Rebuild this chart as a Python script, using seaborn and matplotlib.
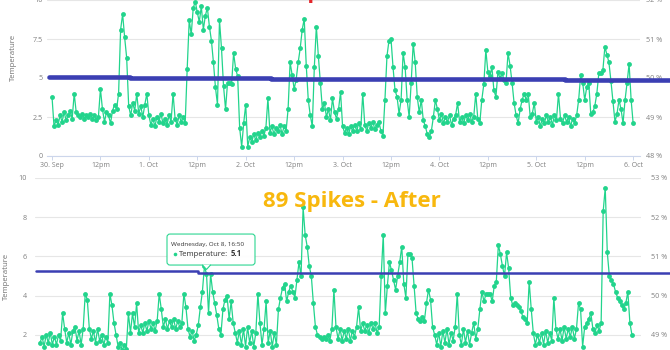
import numpy as np
import pandas as pd
import matplotlib
matplotlib.use("Agg")
import matplotlib.pyplot as plt
import seaborn as sns
from matplotlib.patches import FancyBboxPatch, Polygon
from matplotlib.lines import Line2D
from matplotlib.transforms import IdentityTransform

# ---------------- Before: temperature every 30 min, 30 Sep 00:00 -> 6 Oct 00:00
before_sep30 = [3.8, 1.9, 2.3, 2.0, 2.6, 2.2, 2.8, 2.3, 2.6, 2.9, 2.4, 4.0,
                2.8, 2.6, 2.5, 2.7, 2.4, 2.6, 2.5, 2.7, 2.4, 2.6, 2.3, 2.5,
                4.3, 3.0, 2.2, 2.8, 2.6, 2.1, 2.9, 3.3, 3.0, 4.0, 8.1, 9.1,
                7.6, 6.3, 3.2, 2.6, 3.4, 2.9, 4.0, 2.7, 3.2, 2.5, 3.3, 4.0]
before_oct1 = [2.6, 2.0, 2.4, 1.9, 2.5, 2.2, 2.7, 2.1, 2.4, 2.0, 2.6, 2.2,
               4.0, 2.4, 2.0, 2.6, 2.2, 2.5, 2.1, 5.6, 8.7, 7.8, 9.5, 9.9,
               9.2, 8.6, 9.6, 8.1, 9.0, 9.5, 8.3, 7.4, 6.0, 4.4, 3.3, 8.7,
               6.9, 4.5, 3.0, 4.7, 4.7, 4.6, 6.6, 5.6, 5.1, 1.8, 0.6, 2.1]
before_oct2 = [3.3, 0.6, 1.2, 0.9, 1.4, 1.0, 1.5, 1.2, 1.6, 1.3, 1.8, 3.7,
               1.5, 1.9, 1.4, 1.8, 1.6, 2.0, 1.4, 1.9, 1.6, 3.0, 6.0, 5.2,
               4.3, 4.9, 6.0, 6.9, 8.1, 8.8, 5.8, 3.6, 2.6, 1.9, 5.7, 8.3,
               6.4, 4.7, 3.0, 3.4, 2.5, 3.0, 2.3, 3.7, 2.8, 2.4, 3.0, 4.1]
before_oct3 = [1.9, 1.5, 1.8, 1.4, 1.9, 1.6, 2.0, 1.6, 2.1, 1.7, 4.0, 2.0,
               1.6, 2.1, 1.8, 2.2, 1.7, 2.0, 2.2, 1.6, 1.3, 3.6, 6.4, 7.4,
               7.5, 5.7, 4.2, 3.8, 2.7, 3.6, 6.6, 5.7, 3.6, 2.5, 4.7, 7.2,
               6.0, 3.8, 2.8, 3.6, 2.3, 1.9, 1.4, 1.2, 1.6, 2.5, 3.6, 3.0]
before_oct4 = [2.3, 2.7, 2.1, 2.5, 2.2, 2.6, 2.0, 2.4, 2.6, 3.4, 2.2, 2.5,
               2.1, 2.6, 2.3, 2.7, 2.2, 2.5, 4.0, 2.4, 2.1, 3.6, 4.6, 6.8,
               5.4, 5.1, 5.7, 4.2, 3.8, 5.4, 5.0, 5.3, 4.9, 4.7, 6.6, 5.8,
               4.7, 3.4, 2.6, 2.1, 3.0, 3.6, 4.0, 3.6, 4.0, 2.5, 2.7, 3.4]
before_oct5 = [2.2, 2.5, 1.9, 2.4, 2.1, 2.6, 2.2, 2.5, 2.0, 2.6, 2.3, 4.0,
               2.4, 2.1, 2.6, 2.2, 2.5, 1.9, 2.4, 2.1, 2.6, 3.6, 5.2, 4.7,
               3.6, 4.4, 4.7, 2.7, 2.8, 3.2, 4.0, 5.3, 5.3, 5.5, 7.0, 6.5,
               6.0, 4.8, 3.5, 2.2, 2.7, 3.6, 3.0, 2.1, 3.6, 4.7, 5.9, 3.6,
               2.1]

# Humidity (right axis), step series: hour from start -> %
before_hum_hours = [-0.75, 19.3, 54.2, 127.1, 153.3]
before_hum_pct = [50.02, 50.0, 49.975, 49.95, 49.95]

# ---------------- After: temperature every 30 min, from 7 Oct 00:20
after_oct7 = [1.6, 1.9, 1.4, 2.0, 1.6, 2.1, 1.5, 1.9, 1.5, 2.0, 1.7, 3.1,
              2.3, 1.6, 2.1, 1.5, 2.2, 2.4, 1.7, 2.2, 1.5, 2.3, 4.1, 3.8,
              2.3, 1.8, 2.2, 1.6, 2.3, 1.7, 2.0, 1.5, 1.9, 1.6, 4.1, 3.5,
              2.6, 2.0, 1.4, 1.6, 1.2, 1.5, 1.3, 3.1, 2.1, 3.1, 2.4, 3.6]
after_oct8 = [2.1, 2.5, 2.1, 2.6, 2.2, 2.7, 2.3, 2.6, 2.2, 2.7, 4.1, 3.3,
              2.4, 2.8, 2.3, 2.7, 2.4, 2.8, 2.3, 2.7, 2.4, 2.6, 4.1, 3.4,
              2.3, 1.9, 2.2, 1.7, 2.0, 2.5, 3.4, 4.2, 5.5, 5.1, 3.1, 5.1,
              4.2, 3.6, 3.0, 2.3, 2.0, 3.3, 3.8, 4.0, 2.8, 3.7, 2.6, 2.1]
after_oct9 = [1.6, 2.2, 1.5, 2.3, 1.4, 2.4, 1.6, 2.2, 1.4, 2.1, 4.1, 2.6,
              1.5, 2.3, 3.7, 1.6, 2.2, 1.4, 2.1, 1.5, 3.3, 3.9, 4.4, 4.6,
              3.7, 4.2, 4.5, 4.2, 3.9, 4.8, 5.7, 5.0, 8.5, 7.1, 6.5, 5.5,
              5.0, 3.6, 2.4, 2.0, 1.9, 1.8, 1.9, 1.8, 2.0, 1.7, 2.3, 4.3]
after_oct10 = [2.4, 1.8, 2.3, 1.7, 2.2, 1.8, 2.3, 1.7, 2.2, 1.9, 2.4, 3.4,
               2.2, 2.6, 2.2, 2.5, 2.1, 2.6, 2.3, 2.6, 2.1, 2.4, 5.0, 7.1,
               3.1, 4.5, 5.7, 5.3, 4.8, 4.3, 5.0, 5.7, 6.5, 4.6, 3.9, 6.1,
               6.1, 5.9, 4.5, 3.1, 2.8, 2.7, 2.9, 2.7, 3.6, 4.3, 3.8, 2.4]
after_oct11 = [2.0, 1.5, 2.1, 1.4, 2.2, 1.6, 2.3, 1.5, 2.1, 1.7, 2.4, 4.1,
               2.0, 1.5, 2.3, 1.6, 2.2, 1.5, 2.1, 2.6, 1.8, 2.3, 3.3, 4.2,
               3.7, 4.1, 4.1, 4.1, 3.7, 4.5, 4.7, 6.6, 6.1, 5.5, 5.0, 6.2,
               5.4, 3.9, 3.5, 3.6, 3.5, 3.4, 3.2, 2.9, 2.8, 2.6, 4.7, 3.3]
after_oct12 = [2.1, 1.5, 2.0, 1.6, 2.1, 1.5, 2.2, 1.6, 2.1, 1.7, 3.9, 2.3,
               1.8, 2.3, 1.7, 2.4, 1.8, 2.3, 1.9, 2.4, 1.8, 2.3, 3.6, 3.3,
               1.4, 2.4, 2.6, 2.8, 3.1, 2.3, 2.1, 2.5, 2.2, 2.6, 8.3, 9.5,
               6.2, 5.0, 4.8, 4.6, 4.2, 3.9, 3.7, 3.5, 3.3, 3.6, 4.2, 2.6,
               2.0]

after_hum_hours = [-1.0, 38.4, 153.2]
after_hum_pct = [50.62, 50.58, 50.58]

# Axis ticks / labels
before_x_ticks = [0, 12, 24, 36, 48, 60, 72, 84, 96, 108, 120, 132, 144]
before_x_labels = ["30. Sep", "12pm", "1. Oct", "12pm", "2. Oct", "12pm", "3. Oct",
                   "12pm", "4. Oct", "12pm", "5. Oct", "12pm", "6. Oct"]
before_temp_ticks = [0, 2.5, 5, 7.5, 10]
before_temp_labels = ["0", "2.5", "5", "7.5", "10"]
before_hum_ticks = [48, 49, 50, 51, 52]
after_temp_ticks = [2, 4, 6, 8, 10]
after_hum_ticks = [49, 50, 51, 52, 53]

after_start = pd.Timestamp("2014-10-07 00:20")
title_after = "89 Spikes - After"
title_before = "Spikes - Before"

GREEN = "#22d48c"
BLUE = "#3b3fb3"
GOLD = "#f8b80e"
RED = "#e3262b"
GRID = "#e6e6e6"
TICK = "#808080"

before_temp = before_sep30 + before_oct1 + before_oct2 + before_oct3 + before_oct4 + before_oct5
after_temp = after_oct7 + after_oct8 + after_oct9 + after_oct10 + after_oct11 + after_oct12
before = pd.DataFrame({"hours": np.arange(len(before_temp)) * 0.5, "temp": before_temp})
after = pd.DataFrame({"hours": np.arange(len(after_temp)) * 0.5, "temp": after_temp})

sns.set_theme(style="white")
plt.rcParams["font.family"] = ["Open Sans", "DejaVu Sans"]

W, H = 670, 350
fig = plt.figure(figsize=(W / 100, H / 100), dpi=100)


def rect(left, top, right, bottom):
    return [left / W, 1 - bottom / H, (right - left) / W, (bottom - top) / H]


ax_top = fig.add_axes(rect(47, 0, 640, 156))
ax_bot = fig.add_axes(rect(35, 178, 641, 374))

line_kw = dict(color=GREEN, marker="o", markersize=3.5, markeredgewidth=0,
               markeredgecolor=GREEN, linewidth=0.9, estimator=None)
hum_kw = dict(color=BLUE, drawstyle="steps-post", estimator=None, clip_on=False)


def style_axes(ax, ax_r, ticks, labels, hum_ticks, lpad, rpad):
    ax.set_yticks(ticks, labels)
    ax.yaxis.grid(True, color=GRID, linewidth=0.8)
    ax.xaxis.grid(False)
    for s in ax.spines.values():
        s.set_visible(False)
    ax.tick_params(axis="y", length=0, pad=lpad, labelsize=5.2, labelcolor=TICK)
    ax.set_xlabel("")
    ax_r.set_yticks(hum_ticks, [f"{t} %" for t in hum_ticks])
    ax_r.tick_params(axis="y", length=0, pad=rpad, labelsize=5.2, labelcolor=TICK)
    ax_r.grid(False)
    for s in ax_r.spines.values():
        s.set_visible(False)
    ax_r.set_ylabel("")
    ax_r.set_xlabel("")
    ax.set_ylabel("Temperature", fontsize=5.6, color="#707070")


# ---- Before panel
sns.lineplot(data=before, x="hours", y="temp", ax=ax_top, **line_kw)
ax_top_r = ax_top.twinx()
sns.lineplot(x=before_hum_hours, y=before_hum_pct, ax=ax_top_r, linewidth=3.3, **hum_kw)
ax_top.set_ylim(0, 10)
ax_top_r.set_ylim(48, 52)
style_axes(ax_top, ax_top_r, before_temp_ticks, before_temp_labels, before_hum_ticks, 3, 4.5)
ax_top.set_xticks(before_x_ticks, before_x_labels)
ax_top.tick_params(axis="x", length=3, width=0.7, color="#ccd6eb", pad=1,
                   labelsize=5, labelcolor=TICK, bottom=True)
ax_top.spines["bottom"].set_visible(True)
ax_top.spines["bottom"].set_color("#ccd6eb")
ax_top.spines["bottom"].set_linewidth(0.8)
ax_top.set_xlim(-1.24, 145.7)
ax_top.yaxis.set_label_coords(-0.05, 0.635)

# ---- After panel
sns.lineplot(data=after, x="hours", y="temp", ax=ax_bot, **line_kw)
ax_bot_r = ax_bot.twinx()
sns.lineplot(x=after_hum_hours, y=after_hum_pct, ax=ax_bot_r, linewidth=1.8, **hum_kw)
ax_bot.set_ylim(0, 10)
ax_bot_r.set_ylim(48, 53)
style_axes(ax_bot, ax_bot_r, after_temp_ticks, [str(t) for t in after_temp_ticks],
           after_hum_ticks, 6, 7)
ax_bot.tick_params(axis="x", length=0, labelbottom=False)
ax_bot.set_xlim(-1.22, 146.2)
ax_bot.yaxis.set_label_coords(-0.041, 0.5)

# ---- Titles
fig.text(263 / W, 1 - 207 / H, title_after, color=GOLD, fontsize=16,
         fontweight="bold", ha="left", va="baseline")
fig.text(295 / W, 1 + 2 / H, title_before, color=RED, fontsize=16,
         fontweight="bold", ha="left", va="baseline")

# ---- Tooltip on the after series
tip_idx = 81
tip_hour = after["hours"][tip_idx]
tip_val = after["temp"][tip_idx]
tip_time = after_start + pd.Timedelta(hours=float(tip_hour))
px, py = ax_bot.transData.transform((tip_hour, tip_val))
ident = IdentityTransform()
box = FancyBboxPatch((px - 39.5, py + 9), 88, 31, boxstyle="round,pad=0,rounding_size=3",
                     transform=ident, facecolor="white", edgecolor=GREEN,
                     linewidth=0.8, alpha=0.95, zorder=10)
fig.add_artist(box)
fig.add_artist(Polygon([(px - 4, py + 9.4), (px + 4, py + 9.4), (px, py + 4.6)],
                       closed=True, transform=ident, facecolor="white",
                       edgecolor="none", zorder=11))
fig.add_artist(Line2D([px - 4, px, px + 4], [py + 9, py + 4.6, py + 9],
                      transform=ident, color=GREEN, linewidth=0.8, zorder=12))
fig.text(px - 35, py + 28, tip_time.strftime("%A, %b %-d, %H:%M"), transform=ident,
         fontsize=4.6, color="#333333", va="baseline", ha="left", zorder=13)
fig.add_artist(Line2D([px - 31.5], [py + 20.5], marker="o", markersize=2.6,
                      markeredgewidth=0, color=GREEN, transform=ident, zorder=13))
t1 = fig.text(px - 28, py + 18, "Temperature:", transform=ident, fontsize=5.6,
              color="#333333", va="baseline", ha="left", zorder=13)
fig.add_artist(plt.Annotation(f"{tip_val:.1f}", xy=(1, 0), xycoords=t1,
                              xytext=(2.2, 0), textcoords="offset points",
                              va="bottom", ha="left", fontsize=5.6,
                              fontweight="bold", color="#333333", zorder=13))

fig.savefig("out.png", dpi=100)
